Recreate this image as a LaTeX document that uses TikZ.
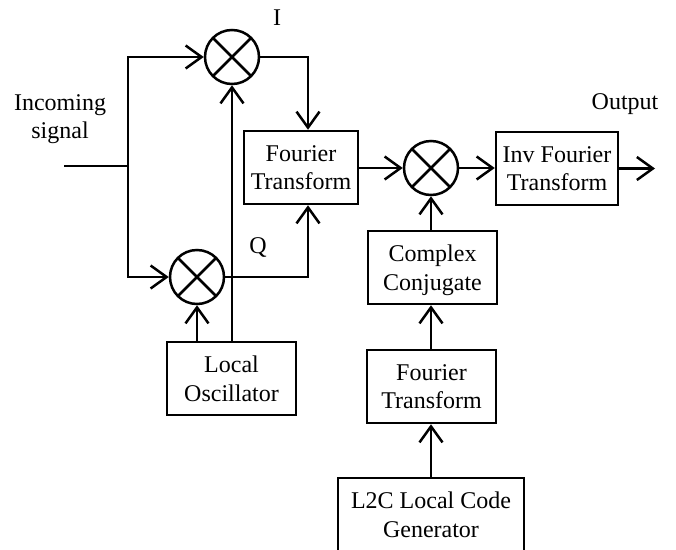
\documentclass[tikz,border=0pt]{standalone}
\usepackage{fontspec}
\setmainfont{Liberation Serif}
\usetikzlibrary{arrows.meta}
\newcommand{\dfont}{\fontsize{24}{28.5}\selectfont}
\begin{document}
\begin{tikzpicture}[x=1pt,y=-1pt,line width=2.5pt,
  >={Straight Barb[length=16pt,width=23pt]},
  blk/.style={draw,inner sep=0pt,align=center,font=\dfont,minimum height=73pt,text depth=0pt},
  mix/.style={draw,circle,inner sep=0pt,minimum size=54pt,
    path picture={\draw (path picture bounding box.north west) -- (path picture bounding box.south east)
      (path picture bounding box.north east) -- (path picture bounding box.south west);}},
  lbl/.style={inner sep=0pt,font=\dfont,align=center}]
\useasboundingbox (0,0) rectangle (676,549);

% mixers
\node[mix] (m1) at (232,57) {};
\node[mix] (m2) at (197,277) {};
\node[mix] (m3) at (431,168) {};

% blocks
\node[blk,minimum width=114pt] (ft1) at (301,167.5) {Fourier\\Transform};
\node[blk,minimum width=122pt] (ift) at (557,168.5) {Inv Fourier\\Transform};
\node[blk,minimum width=129pt] (cc) at (432.5,267.5) {Complex\\Conjugate};
\node[blk,minimum width=129pt] (ft2) at (431.5,386.5) {Fourier\\Transform};
\node[blk,minimum width=186pt] (l2c) at (431,514.5) {L2C Local Code\\Generator};
\node[blk,minimum width=129pt] (lo) at (231.5,378.5) {Local\\Oscillator};

% labels
\node[lbl] (inlbl) at (60,119) {Incoming\\signal};
\node[lbl,anchor=base] (ilbl) at (277,25) {I};
\node[lbl,anchor=base] (qlbl) at (258,253) {Q};
\node[lbl,anchor=base] (outlbl) at (625,109) {Output};

% coordinates
\coordinate (in) at (64,166);
\coordinate (split) at (128,166);
\coordinate (icol) at (308,0);
\coordinate (out) at (655,168.5);

% connectors
\draw (in) -- (split);
\draw[->] (split) |- (m1);
\draw[->] (split) |- (m2);
\draw[->] (m1) -| (icol |- ft1.north);
\draw[->] (m2) -| (icol |- ft1.south);
\draw[->] (lo.north -| m1) -- (m1);
\draw[->] (lo.north -| m2) -- (m2);
\draw[->] (ft1.east |- m3) -- (m3);
\draw[->] (m3) -- (m3 -| ift.west);
\draw[->] (ift.east |- out) -- (out);
\draw[->] (cc.north -| m3) -- (m3);
\draw[->] (ft2.north -| m3) -- (m3 |- cc.south);
\draw[->] (l2c.north -| m3) -- (m3 |- ft2.south);
\end{tikzpicture}
\end{document}
